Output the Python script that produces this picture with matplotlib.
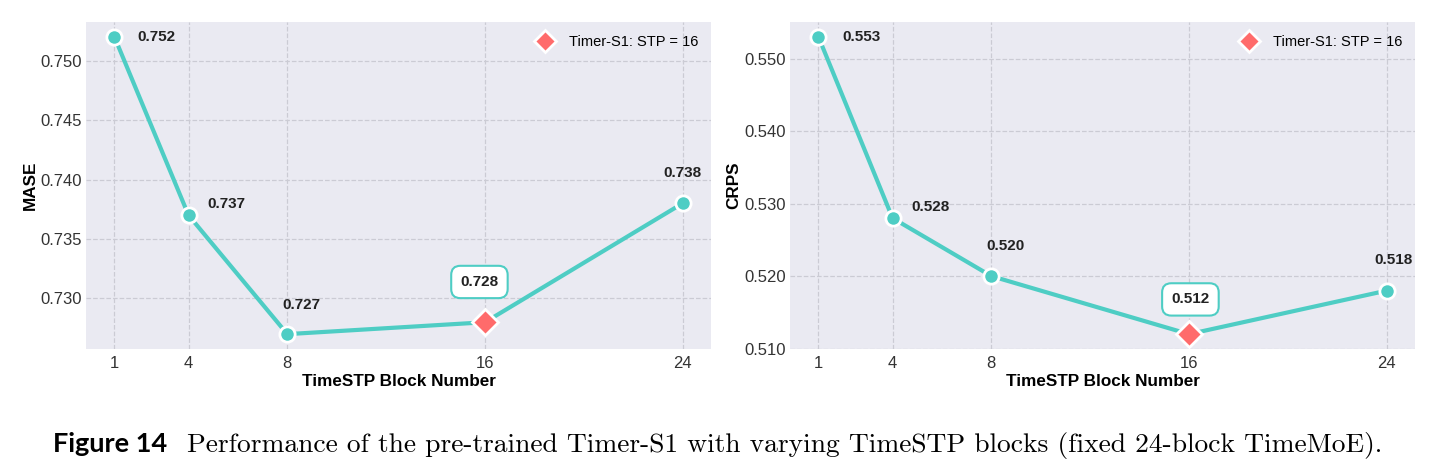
import matplotlib
matplotlib.use("Agg")
import matplotlib.pyplot as plt
from matplotlib.lines import Line2D

# values
blocks = [1, 4, 8, 16, 24]
mase = [0.752, 0.737, 0.727, 0.728, 0.738]
crps = [0.553, 0.528, 0.520, 0.512, 0.518]
best_block = 16

# label offsets (points) for each annotation
mase_offsets = [(30, 0), (27, 8), (10, 21), (-4, 29), (0, 22)]
crps_offsets = [(31, 0), (27, 8), (10, 22), (1, 25), (5, 22)]

teal = "#4ECDC4"
red = "#FF6B6B"
bg = "#EAEAF2"

plt.rcParams["font.family"] = ["Liberation Sans", "DejaVu Sans"]

fig = plt.figure(figsize=(14.33, 4.74), dpi=100)
ax1 = fig.add_axes([0.060, 0.2637, 0.4362, 0.690])
ax2 = fig.add_axes([0.5513, 0.2637, 0.4362, 0.690])


def draw_panel(ax, values, ylabel, offsets):
    ax.set_facecolor(bg)
    for s in ax.spines.values():
        s.set_visible(False)
    ax.grid(True, color="#CBCBD4", linestyle="--", linewidth=0.9)
    ax.set_axisbelow(True)
    ax.plot(blocks, values, color=teal, linewidth=3, zorder=2)
    for x, v, off in zip(blocks, values, offsets):
        if x == best_block:
            ax.plot(x, v, marker="D", markersize=13, color=red,
                    markeredgecolor="white", markeredgewidth=2, zorder=4)
            ax.annotate("%.3f" % v, (x, v), xytext=off, textcoords="offset points",
                        ha="center", va="center", fontsize=11, fontweight="bold",
                        color="#222222",
                        bbox=dict(boxstyle="round,pad=0.6", fc="white", ec=teal, lw=1.5))
        else:
            ax.plot(x, v, marker="o", markersize=11, color=teal,
                    markeredgecolor="white", markeredgewidth=2, zorder=3)
            ax.annotate("%.3f" % v, (x, v), xytext=off, textcoords="offset points",
                        ha="center", va="center", fontsize=11, fontweight="bold",
                        color="#222222")
    ax.set_xticks(blocks)
    ax.tick_params(axis="y", length=0, labelsize=12, colors="#333333", pad=3)
    ax.tick_params(axis="x", length=0, labelsize=12, colors="#333333", pad=5)
    ax.yaxis.set_major_formatter(plt.FormatStrFormatter("%.3f"))
    ax.set_xlabel("TimeSTP Block Number", fontsize=12.3, fontweight="bold", labelpad=2)
    ax.set_ylabel(ylabel, fontsize=12.3, fontweight="bold", labelpad=2)
    handle = Line2D([], [], linestyle="none", marker="D", markersize=11, color=red,
                    markeredgecolor="white", markeredgewidth=2)
    ax.legend([handle], ["Timer-S1: STP = %d" % best_block], loc="upper right",
              frameon=False, fontsize=10.5, handletextpad=0.6)


draw_panel(ax1, mase, "MASE", mase_offsets)
ax1.set_yticks([0.730, 0.735, 0.740, 0.745, 0.750])
draw_panel(ax2, crps, "CRPS", crps_offsets)
ax2.set_yticks([0.510, 0.520, 0.530, 0.540, 0.550])

fig.text(0.037, 0.0464, "Figure 14", fontsize=19.5, fontweight="bold",
         family=["Lato", "DejaVu Sans"], va="baseline")
fig.text(0.1305, 0.0464,
         "Performance of the pre-trained Timer-S1 with varying TimeSTP blocks (fixed 24-block TimeMoE).",
         fontsize=19.8, family=["cmr10", "DejaVu Serif"], va="baseline")

fig.savefig("out.png", dpi=100)
